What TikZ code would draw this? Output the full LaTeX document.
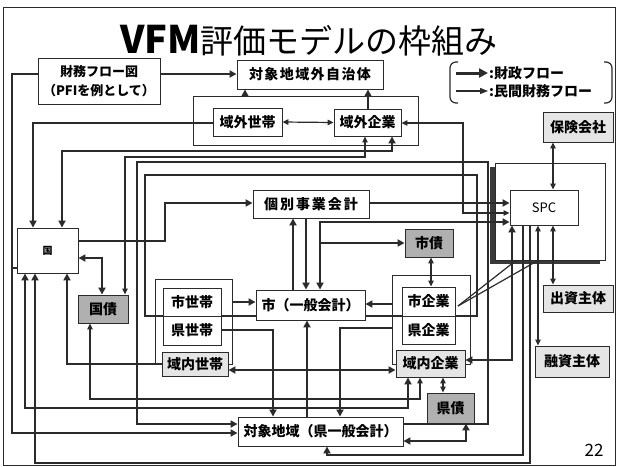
\documentclass[tikz,border=0pt]{standalone}
\usepackage{fontspec}
\setmainfont{Noto Sans CJK JP}
\usetikzlibrary{arrows.meta}
\definecolor{lc}{HTML}{2B2B2B}
\begin{document}
\begin{tikzpicture}[x=1pt,y=-1pt,
  bx/.style={draw=lc, line width=0.9pt, fill=white, inner sep=0pt, text=black,
    font=\bfseries\fontsize{14}{16}\selectfont},
  lt/.style={bx, fill=gray!20},
  dk/.style={bx, fill=gray!62},
  grp/.style={draw=lc, line width=0.9pt, inner sep=0pt},
  thk/.style={draw=lc, line width=2pt},
  thn/.style={draw=lc, line width=1.2pt},
  fw/.style={-{Triangle[length=7pt,width=7pt]}},
  bw/.style={{Triangle[length=7pt,width=7pt]}-{Triangle[length=7pt,width=7pt]}},
  fwn/.style={-{Triangle[length=6pt,width=5.5pt]}},
  bwn/.style={{Triangle[length=6pt,width=5.5pt]}-{Triangle[length=6pt,width=5.5pt]}}
]
\useasboundingbox (0,0) rectangle (618,466);
\fill[white] (0,0) rectangle (618,466);
\draw[lc, line width=0.8pt] (3,7) rectangle (615,465);

% title
\node[anchor=base, inner sep=0pt] (title) at (309,53)
  {{\fontsize{38}{38}\bfseries\selectfont VFM}{\fontsize{33}{33}\selectfont 評価モデルの枠組み}};

% legend
\draw[thn, rounded corners=6pt] (458,62) -- (450,62) -- (450,103) -- (458,103);
\draw[thn, rounded corners=6pt] (604,62) -- (612,62) -- (612,103) -- (604,103);
\coordinate (la1) at (456,73);
\coordinate (lb1) at (488,73);
\coordinate (la2) at (456,91);
\coordinate (lb2) at (488,91);
\draw[draw=lc, line width=3pt, -{Triangle[length=9pt,width=9pt]}] (la1) -- (lb1);
\draw[thn, -{Triangle[length=8pt,width=6pt]}] (la2) -- (lb2);
\node[anchor=west, inner sep=1pt, font=\bfseries\fontsize{14}{16}\selectfont] (lg1) at (lb1) {:財政フロー};
\node[anchor=west, inner sep=1pt, font=\bfseries\fontsize{14}{16}\selectfont] (lg2) at (lb2) {:民間財務フロー};

% group outlines
\node[grp, minimum width=225pt, minimum height=49pt] (ggrp) at (305.5,120.5) {};
\node[grp, minimum width=77pt, minimum height=85pt] (hgrp) at (193.5,321.5) {};
\node[grp, minimum width=78pt, minimum height=89pt] (fgrp) at (431,319.5) {};
\fill[gray!45!black] (490,167) rectangle (600,264);
\node[grp, fill=white, minimum width=110pt, minimum height=97pt] (sgrp) at (550,211.5) {};

% boxes (named; redrawn on top of the connectors below)
\node[bx, minimum width=122pt, minimum height=46pt, align=center,
  font=\bfseries\fontsize{13}{19}\selectfont] (zaimu) at (99,81) {財務フロー図\\（PFIを例として）};
\node[bx, minimum width=146pt, minimum height=29pt] (gaiji) at (310,74.5) {\addfontfeature{LetterSpace=10}対象地域外自治体};
\node[bx, minimum width=69pt, minimum height=28pt] (gsetai) at (247.5,122) {域外世帯};
\node[bx, minimum width=67pt, minimum height=27pt] (gkigyo) at (367.5,122.5) {域外企業};
\node[lt, minimum width=70pt, minimum height=30pt] (hoken) at (578,127) {保険会社};
\node[bx, minimum width=68pt, minimum height=35pt, font=\fontsize{13}{15}\selectfont] (spc) at (544,207.5) {SPC};
\node[lt, minimum width=70pt, minimum height=27pt] (shusshi) at (578,298.5) {出資主体};
\node[lt, minimum width=74pt, minimum height=31pt] (yushi) at (572,361.5) {融資主体};
\node[bx, minimum width=61pt, minimum height=45pt, font=\bfseries\fontsize{10}{12}\selectfont] (kuni) at (47.5,250.5) {国};
\node[dk, minimum width=50pt, minimum height=28pt] (kokusai) at (103,309) {国債};
\node[bx, minimum width=116pt, minimum height=28pt] (kobetsu) at (311,204) {\addfontfeature{LetterSpace=14}個別事業会計};
\node[dk, minimum width=48pt, minimum height=28pt] (shisai) at (429,243) {市債};
\node[bx, minimum width=109pt, minimum height=30pt] (shi) at (310.5,305) {市（一般会計）};
\node[bx, minimum width=58pt, minimum height=28pt] (shisetai) at (192,302) {市世帯};
\node[bx, minimum width=58pt, minimum height=29pt] (kensetai) at (192,330.5) {県世帯};
\node[lt, minimum width=66pt, minimum height=24pt] (ikisetai) at (195,364) {域内世帯};
\node[bx, minimum width=53pt, minimum height=29pt] (shikigyo) at (428.5,301.5) {市企業};
\node[bx, minimum width=53pt, minimum height=28pt] (kenkigyo) at (428.5,330) {県企業};
\node[lt, minimum width=69pt, minimum height=27pt] (ikikigyo) at (430.5,363.5) {域内企業};
\node[dk, minimum width=47pt, minimum height=30pt] (kensai) at (450.5,408) {県債};
\node[bx, minimum width=165pt, minimum height=29pt] (taisho) at (320.5,431.5) {対象地域（県一般会計）};

% ---------- connectors ----------
\draw[thk,fw] (zaimu.east|-0,74) -- (gaiji.west|-0,74);
\draw[thk] (zaimu.west|-0,74) -| (12,268) -- (kuni.west|-0,268);
\draw[thk,fw] (12,268) -- (12,433) -- (taisho.west|-0,433);
\draw[thk,fw] (gsetai.west|-0,123) -| (33,0|-kuni.north);
\draw[thk,fw] (245,0|-ggrp.north) -- (245,0|-gaiji.south);
\draw[thk,fw] (368,0|-gkigyo.north) -- (368,0|-gaiji.south);
\draw[thn,bwn] (gsetai.east) -- (gkigyo.west);
\draw[thn,bwn] (gkigyo.east|-0,123) -- (463,123) -- (463,213) -- (spc.west|-0,213);
\draw[thk,bw] (62,0|-kuni.north) -- (62,151) -- (392,151) -- (392,0|-gkigyo.south);
\draw[thn,bwn] (125,0|-kokusai.north) -- (125,157) -- (365,157) -- (365,0|-gkigyo.south);
\draw[thk,fw] (kuni.east|-0,241) -- (165,241) -- (165,203) -- (kobetsu.west|-0,203);
\draw[thk,bw] (kuni.east|-0,258) -- (102,258) -- (102,0|-kokusai.north);
\draw[thk,fw] (ikisetai.west) -- (67,364) -- (67,0|-kuni.south);
\draw[thk,bw] (25,0|-kuni.south) -- (25,408) -- (408,408) -- (408,0|-ikikigyo.south);
\draw[thn,bwn] (90,0|-kokusai.south) -- (90,399) -- (420,399) -- (420,0|-ikikigyo.south);
\draw[thk,fw] (530,0|-spc.south) -- (530,463) -- (35,463) -- (35,0|-kuni.south);
\draw[thk,fw] (523,0|-spc.south) -- (523,455) -- (327,455) -- (327,0|-taisho.south);
\draw[thk,bw] (512,0|-spc.south) -- (512,360) -- (ikikigyo.east|-0,360);
\draw[thn,bwn] (538,0|-spc.south) -- (538,0|-yushi.north);
\draw[thn,bwn] (553,0|-spc.south) -- (553,0|-shusshi.north);
\draw[thn,bwn] (553,0|-hoken.south) -- (553,0|-spc.north);
\draw[thk,fw] (kobetsu.east|-0,203) -- (spc.west|-0,203);
\draw[thk,fw] (293,0|-shi.north) -- (293,0|-kobetsu.south);
\draw[thk,fw] (306,0|-kobetsu.south) -- (306,0|-shi.north);
\draw[thk,bw] (320,0|-shi.north) -- (320,243) -- (shisai.west|-0,243);
\draw[thk,fw] (320,243) -- (320,222) -- (spc.west|-0,222);
\draw[thk,fw] (hgrp.east|-0,302) -- (shi.west|-0,302);
\draw[thk,fw] (kensetai.east|-0,330) -- (273,330) -- (273,0|-taisho.north);
\draw[thk,fw] (307,0|-taisho.north) -- (307,0|-shi.south);
\draw[thk,fw] (fgrp.west|-0,304) -- (shi.east|-0,304);
\draw[thk,fw] (fgrp.west|-0,328) -- (340,328) -- (340,0|-taisho.north);
\draw[thk,bw] (ikisetai.east|-0,370) -- (ikikigyo.west|-0,370);
\draw[thn,bwn] (431,0|-shisai.south) -- (431,0|-shikigyo.north);
\draw[thn,bwn] (443,0|-ikikigyo.south) -- (443,0|-kensai.north);
\draw[thk,bw] (taisho.east|-0,441) -- (466,441) -- (466,0|-kensai.south);
\draw[thk,fw] (taisho.east|-0,424) -- (488,424) -- (488,162) -- (137,162) -- (137,424) -- (taisho.west|-0,424);
\draw[thk] (shi.east|-0,316) -- (477,316) -- (477,175) -- (145,175) -- (145,316) -- (shi.west|-0,316);
\draw[thn] (458,306) -- (516,0|-sgrp.south);
\draw[thn] (458,306) -- (538,0|-sgrp.south);

% boxes again, on top of the connectors
\node[bx, minimum width=122pt, minimum height=46pt, align=center,
  font=\bfseries\fontsize{13}{19}\selectfont] at (zaimu) {財務フロー図\\（PFIを例として）};
\node[bx, minimum width=146pt, minimum height=29pt] at (gaiji) {\addfontfeature{LetterSpace=10}対象地域外自治体};
\node[bx, minimum width=69pt, minimum height=28pt] at (gsetai) {域外世帯};
\node[bx, minimum width=67pt, minimum height=27pt] at (gkigyo) {域外企業};
\node[lt, minimum width=70pt, minimum height=30pt] at (hoken) {保険会社};
\node[bx, minimum width=68pt, minimum height=35pt, font=\fontsize{13}{15}\selectfont] at (spc) {SPC};
\node[lt, minimum width=70pt, minimum height=27pt] at (shusshi) {出資主体};
\node[lt, minimum width=74pt, minimum height=31pt] at (yushi) {融資主体};
\node[bx, minimum width=61pt, minimum height=45pt, font=\bfseries\fontsize{10}{12}\selectfont] at (kuni) {国};
\node[dk, minimum width=50pt, minimum height=28pt] at (kokusai) {国債};
\node[bx, minimum width=116pt, minimum height=28pt] at (kobetsu) {\addfontfeature{LetterSpace=14}個別事業会計};
\node[dk, minimum width=48pt, minimum height=28pt] at (shisai) {市債};
\node[bx, minimum width=109pt, minimum height=30pt] at (shi) {市（一般会計）};
\node[bx, minimum width=58pt, minimum height=28pt] at (shisetai) {市世帯};
\node[bx, minimum width=58pt, minimum height=29pt] at (kensetai) {県世帯};
\node[lt, minimum width=66pt, minimum height=24pt] at (ikisetai) {域内世帯};
\node[bx, minimum width=53pt, minimum height=29pt] at (shikigyo) {市企業};
\node[bx, minimum width=53pt, minimum height=28pt] at (kenkigyo) {県企業};
\node[lt, minimum width=69pt, minimum height=27pt] at (ikikigyo) {域内企業};
\node[dk, minimum width=47pt, minimum height=30pt] at (kensai) {県債};
\node[bx, minimum width=165pt, minimum height=29pt] at (taisho) {対象地域（県一般会計）};

\node[anchor=center, inner sep=0pt, font=\fontsize{17}{17}\selectfont] (pg) at (594,450) {22};
\end{tikzpicture}
\end{document}
